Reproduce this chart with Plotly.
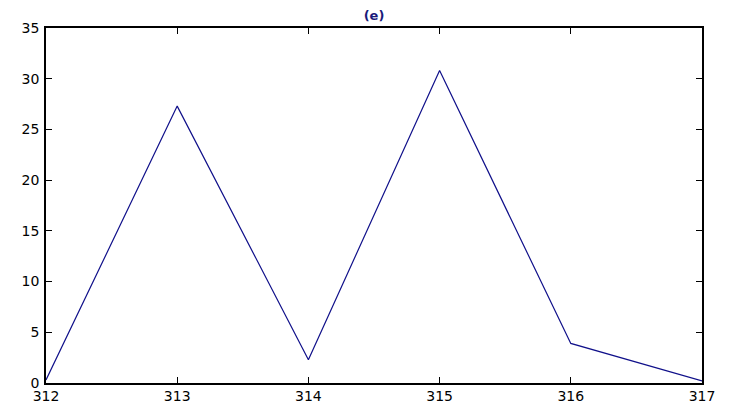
import plotly.graph_objects as go

x_vals = [312, 313, 314, 315, 316, 317]
y_vals = [0.3, 27.3, 2.3, 30.8, 3.9, 0.2]
x_ticks = [312, 313, 314, 315, 316, 317]
y_ticks = [0, 5, 10, 15, 20, 25, 30, 35]
title_text = "(e)"

fig = go.Figure()
fig.add_trace(go.Scatter(x=x_vals, y=y_vals, mode="lines",
                         line=dict(color="#10108a", width=1.2), showlegend=False))

axis_common = dict(showgrid=False, zeroline=False, showline=True, linecolor="black",
                   linewidth=1.5, mirror="ticks", ticks="inside", ticklen=6,
                   tickcolor="black", automargin=False,
                   tickfont=dict(family="DejaVu Sans", size=14, color="black"))

fig.update_layout(
    width=730, height=406,
    margin=dict(l=46, r=28, t=28, b=23, autoexpand=False),
    paper_bgcolor="white", plot_bgcolor="white",
    title=dict(text="<b>" + title_text + "</b>", x=0.5123, xanchor="center", y=0.963, yanchor="middle",
               font=dict(family="DejaVu Sans", size=13, color="#1a1a7a")),
    xaxis=dict(range=[312, 317], tickvals=x_ticks, ticklabelstandoff=-1, **axis_common),
    yaxis=dict(range=[0, 35], tickvals=y_ticks, ticklabelstandoff=2, **axis_common),
)

fig.write_html("out.html")
